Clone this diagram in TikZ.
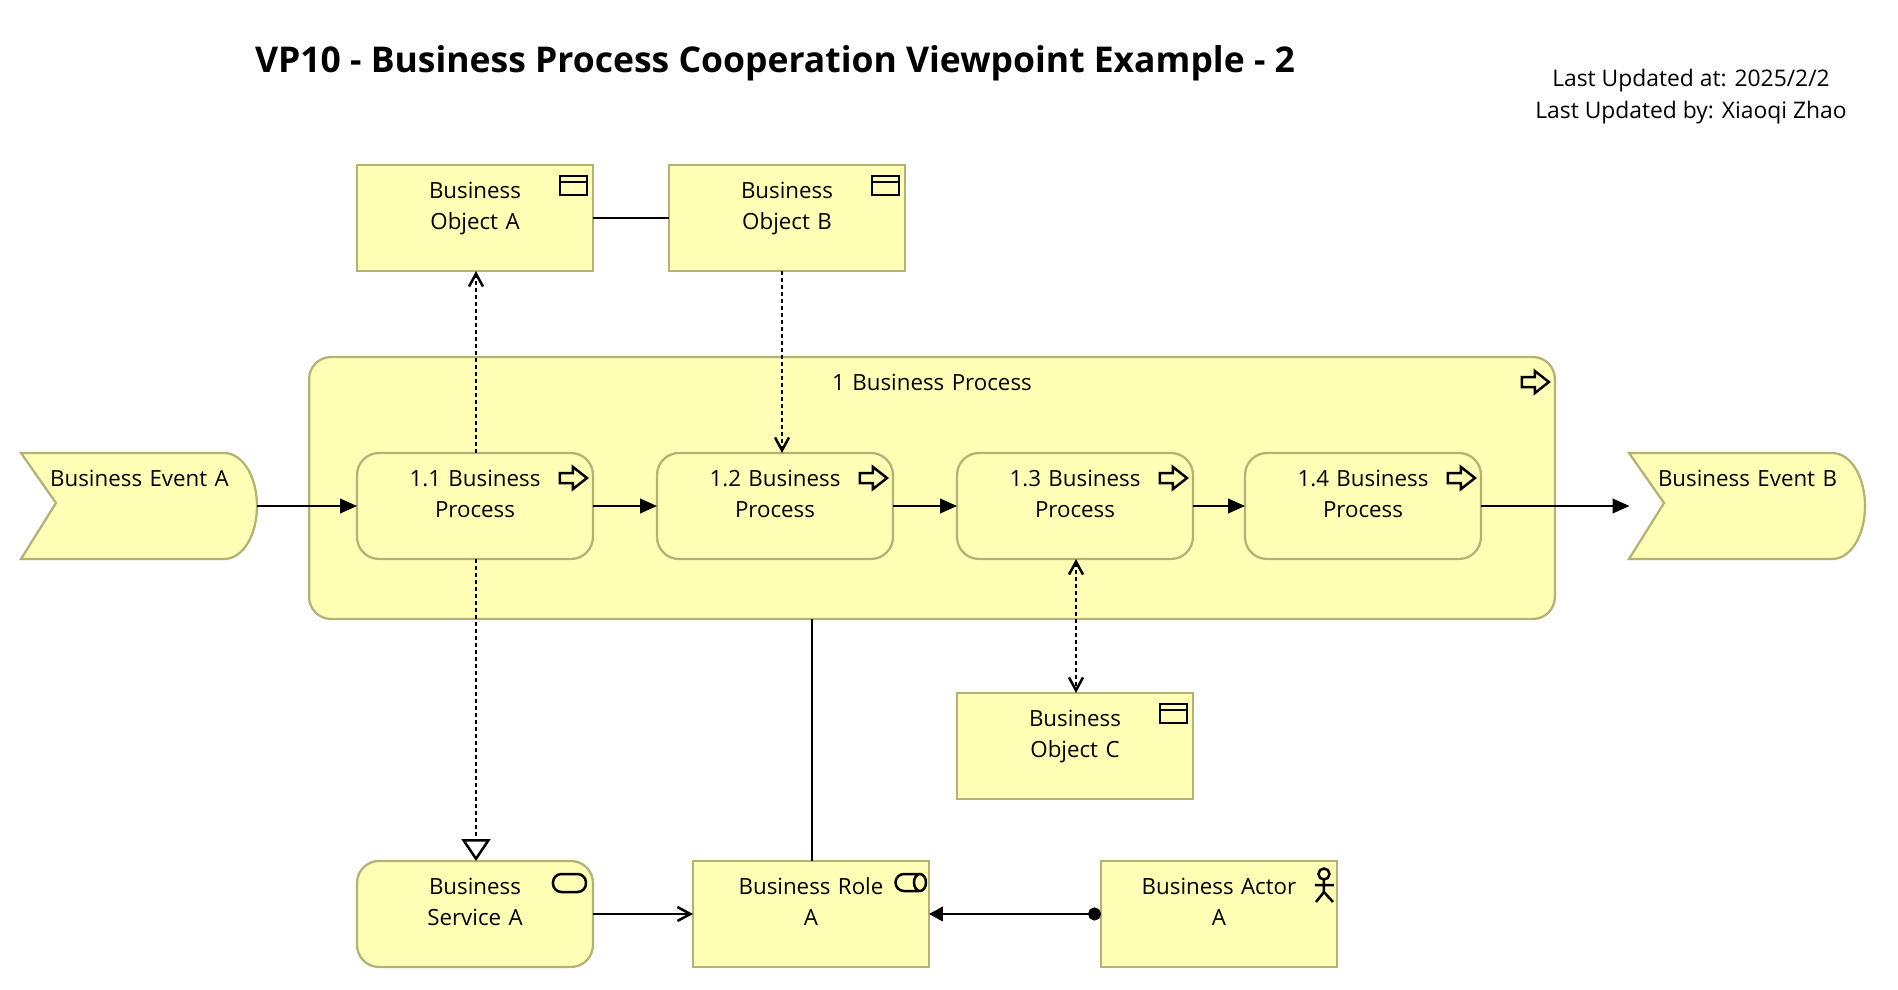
\documentclass[tikz,border=0pt]{standalone}
\usepackage{fontspec}
\setmainfont{Open Sans}
\usetikzlibrary{arrows.meta}
\definecolor{elemfill}{RGB}{255,255,181}
\definecolor{elemline}{RGB}{178,178,116}
\tikzset{
  elem/.style={rectangle,text width=4.72cm,align=center,inner sep=0pt,outer sep=0pt,text height=0.66cm,text depth=1.46cm,
    font=\fontsize{12.7}{18.2}\selectfont},
  objbox/.style={elem,draw=elemline,fill=elemfill,line width=0.045cm},
  procbox/.style={objbox,rounded corners=0.44cm},
  evtline/.style={draw=elemline,fill=elemfill,line width=0.045cm},
  icon/.style={draw=black,line width=0.05cm},
  conn/.style={line width=0.05cm},
  flow/.style={conn,-{Triangle[length=0.34cm,width=0.29cm]}},
  dep/.style={conn,dash pattern=on 0.08cm off 0.06cm},
  barb/.tip={Straight Barb[length=0.26cm,width=0.28cm]},
  procicon/.pic={\draw[icon,fill=elemfill] (0,0) -- (-14,-11) -- (-14,-5) -- (-27,-5) -- (-27,5) -- (-14,5) -- (-14,11) -- cycle;},
  objicon/.pic={\draw[icon] (0,0) rectangle (27,19) (0,6) -- (27,6);},
  svcicon/.pic={\draw[icon,rounded corners=0.17cm] (0,0) rectangle (33,18);},
  evtshape/.pic={\path[evtline] (0,0) -- (203,0) .. controls (222,0) and (236,24) .. (236,53)
    .. controls (236,82) and (222,106) .. (203,106) -- (0,106) -- (35,50) -- cycle;}
}
\begin{document}
\begin{tikzpicture}[x=0.02cm,y=-0.02cm]
  \useasboundingbox (0,0) rectangle (1898,990);
  \node[font=\fontsize{20.2}{25}\selectfont\bfseries] (title) at (775,63) {VP10 - Business Process Cooperation Viewpoint Example - 2};
  \node[font=\fontsize{13}{18.2}\selectfont,align=center] (updated) at (1691,96.5) {Last Updated at: 2025/2/2\\Last Updated by: Xiaoqi Zhao};
  % outer process
  \node[procbox,text width=24.92cm,text height=0.66cm,text depth=4.58cm] (proc) at (932,488) {1 Business Process};
  \pic at ([shift={(-6,25)}]proc.north east) {procicon};
  \pic at (21,453) {evtshape};
  \pic at (1629,453) {evtshape};
  \node[elem] (evtA) at (139.5,506) {Business Event A};
  \node[elem] (evtB) at (1747.5,506) {Business Event B};
  \node[procbox] (p1) at (475,506) {1.1 Business\\Process};
  \node[procbox] (p2) at (775,506) {1.2 Business\\Process};
  \node[procbox] (p3) at (1075,506) {1.3 Business\\Process};
  \node[procbox] (p4) at (1363,506) {1.4 Business\\Process};
  \pic at ([shift={(-6,25)}]p1.north east) {procicon};
  \pic at ([shift={(-6,25)}]p2.north east) {procicon};
  \pic at ([shift={(-6,25)}]p3.north east) {procicon};
  \pic at ([shift={(-6,25)}]p4.north east) {procicon};
  \node[objbox] (objA) at (475,218) {Business\\Object A};
  \node[objbox] (objB) at (787,218) {Business\\Object B};
  \node[objbox] (objC) at (1075,746) {Business\\Object C};
  \pic at ([shift={(-33,11)}]objA.north east) {objicon};
  \pic at ([shift={(-33,11)}]objB.north east) {objicon};
  \pic at ([shift={(-33,11)}]objC.north east) {objicon};
  \node[procbox] (svc) at (475,914) {Business\\Service A};
  \node[objbox] (role) at (811,914) {Business Role\\A};
  \node[objbox] (actor) at (1219,914) {Business Actor\\A};
  \pic at ([shift={(-40,13)}]svc.north east) {svcicon};
  % role and actor icons
  \draw[icon] ([shift={(-10,13)}]role.north east) -- ([shift={(-25,13)}]role.north east)
    arc[start angle=90,end angle=270,radius=0.17cm] -- ([shift={(-10,30)}]role.north east);
  \draw[icon] ([shift={(-9,21.5)}]role.north east) ellipse (0.12cm and 0.17cm);
  \draw[icon] ([shift={(-13,13)}]actor.north east) circle (0.11cm);
  \draw[icon] ([shift={(-13,18.5)}]actor.north east) -- ([shift={(-13,31)}]actor.north east)
    -- ([shift={(-21,41)}]actor.north east) ([shift={(-13,31)}]actor.north east) -- ([shift={(-4,41)}]actor.north east)
    ([shift={(-22,24)}]actor.north east) -- ([shift={(-3,24)}]actor.north east);
  % connectors
  \draw[conn] (objA) -- (objB);
  \draw[flow] (evtA) -- (p1);
  \draw[flow] (p1) -- (p2);
  \draw[flow] (p2) -- (p3);
  \draw[flow] (p3) -- (p4);
  \draw[flow] (p4) -- (evtB);
  \draw[dep,-{barb}] ([xshift=0.02cm]p1.north) -- ([xshift=0.02cm]objA.south);
  \draw[dep,-{barb}] ([shift={(-5,0)}]objB.south) -- ([shift={(7,0)}]p2.north);
  \draw[dep,{barb}-{barb}] ([xshift=0.02cm]p3.south) -- ([xshift=0.02cm]objC.north);
  \draw[dep,-{Triangle[open,fill=white,length=0.44cm,width=0.58cm]}] ([xshift=0.02cm]p1.south) -- ([xshift=0.02cm]svc.north);
  \draw[conn] ([xshift=0.02cm]proc.south -| role.north) -- ([xshift=0.02cm]role.north);
  \draw[conn,-{barb}] (svc) -- (role);
  \draw[conn,{Circle[length=0.26cm]}-{Triangle[length=0.28cm,width=0.29cm]}] (actor) -- (role);
\end{tikzpicture}
\end{document}
